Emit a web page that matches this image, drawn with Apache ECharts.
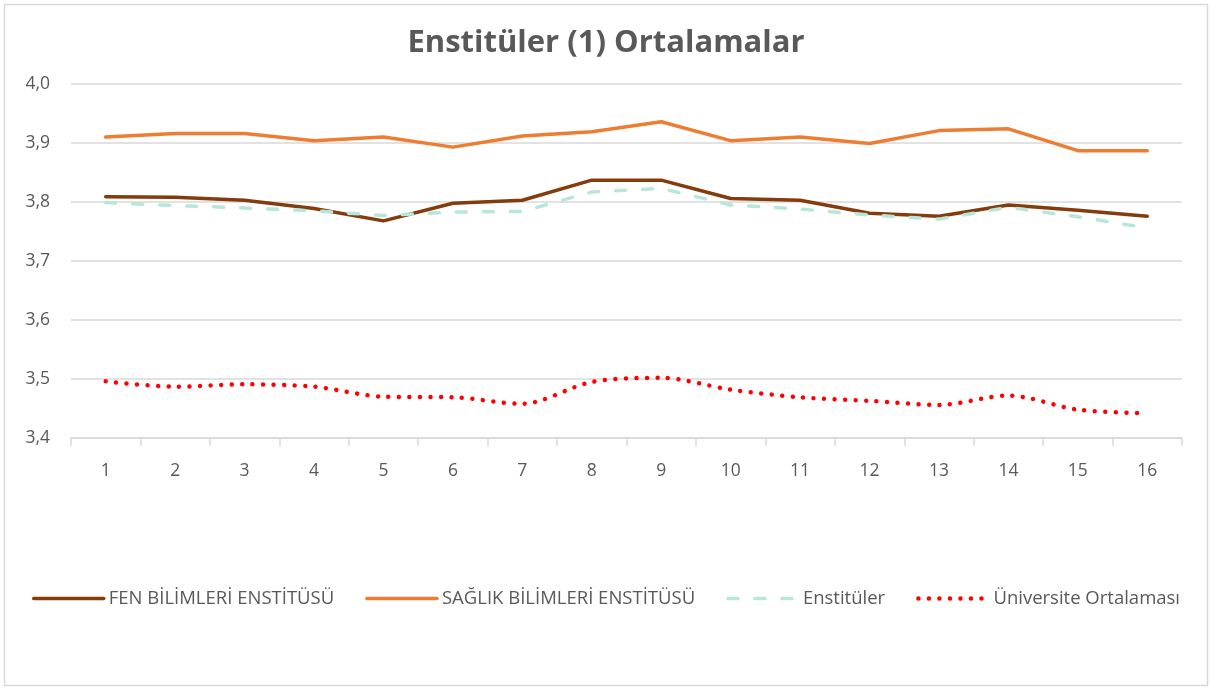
<!DOCTYPE html>
<html><head><meta charset="utf-8">
<script src="https://cdn.jsdelivr.net/npm/echarts@6/dist/echarts.min.js"></script>
<style>html,body{margin:0;padding:0;background:#fff}#c{width:1212px;height:691px}</style>
</head><body><div id="c"></div>
<script>
const categories = ['1','2','3','4','5','6','7','8','9','10','11','12','13','14','15','16'];
const yTicks = [3.4, 3.5, 3.6, 3.7, 3.8, 3.9, 4.0];
const fenBilimleri = [3.809,3.808,3.803,3.789,3.768,3.798,3.803,3.837,3.837,3.806,3.803,3.781,3.776,3.795,3.786,3.776];
const saglikBilimleri = [3.910,3.916,3.916,3.904,3.910,3.893,3.912,3.919,3.936,3.904,3.910,3.899,3.921,3.924,3.887,3.887];
const enstituler = [3.799,3.794,3.790,3.785,3.777,3.783,3.784,3.817,3.823,3.795,3.788,3.778,3.771,3.791,3.775,3.756];
const universite = [3.496,3.487,3.491,3.487,3.470,3.469,3.458,3.495,3.502,3.482,3.469,3.463,3.456,3.472,3.448,3.442];
const seriesNames = ['FEN BİLİMLERİ ENSTİTÜSÜ','SAĞLIK BİLİMLERİ ENSTİTÜSÜ','Enstitüler','Üniversite Ortalaması'];

const FONT = '"Open Sans", Lato, sans-serif';
const styles = [
  {color:'#843C0C', width:3.5, type:'solid'},
  {color:'#ED7D31', width:3.5, type:'solid'},
  {color:'#B7E6DA', width:3.5, type:[10,17]},
  {color:'#FF0000', width:4.5, type:[0.01,10.5]}
];
const chart = echarts.init(document.getElementById('c'), null, {renderer:'canvas'});
chart.setOption({
  backgroundColor: '#fff',
  animation: false,
  textStyle: {fontFamily: FONT},
  graphic: [{type:'rect', shape:{x:4.5,y:4.5,width:1203,height:681}, style:{fill:'none', stroke:'#D9D9D9', lineWidth:1.5}, silent:true}],
  title: {text:'Enstitüler (1) Ortalamalar', left:'center', top:23,
    textStyle:{fontFamily:FONT, fontSize:31, fontWeight:'bold', color:'#595959'}},
  legend: {
    data: seriesNames.map((n, i) => ({name: n,
      lineStyle: {width: styles[i].width, type: styles[i].type, color: styles[i].color, cap:'round'}})),
    top: 584, left: 'center', itemWidth: 70, itemHeight: 14, itemGap: 31,
    itemStyle: {opacity: 0},
    textStyle: {fontFamily: FONT, fontSize: 18.5, color:'#595959', padding:[0,0,0,0]}
  },
  grid: {left:71, right:30, top:84, bottom:253, containLabel:false},
  xAxis: {type:'category', data:categories, boundaryGap:true,
    axisLine:{lineStyle:{color:'#D9D9D9', width:1.5}},
    axisTick:{show:true, length:8, lineStyle:{color:'#D9D9D9', width:1.5}},
    axisLabel:{fontFamily:FONT, fontSize:17.5, color:'#595959', margin:24}},
  yAxis: {type:'value', min:yTicks[0], max:yTicks[yTicks.length-1], interval:0.1,
    axisLine:{show:false}, axisTick:{show:false},
    splitLine:{lineStyle:{color:'#D9D9D9', width:1.5}},
    axisLabel:{fontFamily:FONT, fontSize:17.5, color:'#595959', margin:21,
      formatter: v => v.toFixed(1).replace('.', ',')}},
  series: [fenBilimleri, saglikBilimleri, enstituler, universite].map((d, i) => ({
    name: seriesNames[i], type:'line', data:d, symbol:'none', color: styles[i].color,
    smooth: i === 3 ? 0.3 : false,
    lineStyle: {width: styles[i].width, color: styles[i].color, type: styles[i].type, cap:'round', join:'round'}
  }))
});
</script></body></html>
